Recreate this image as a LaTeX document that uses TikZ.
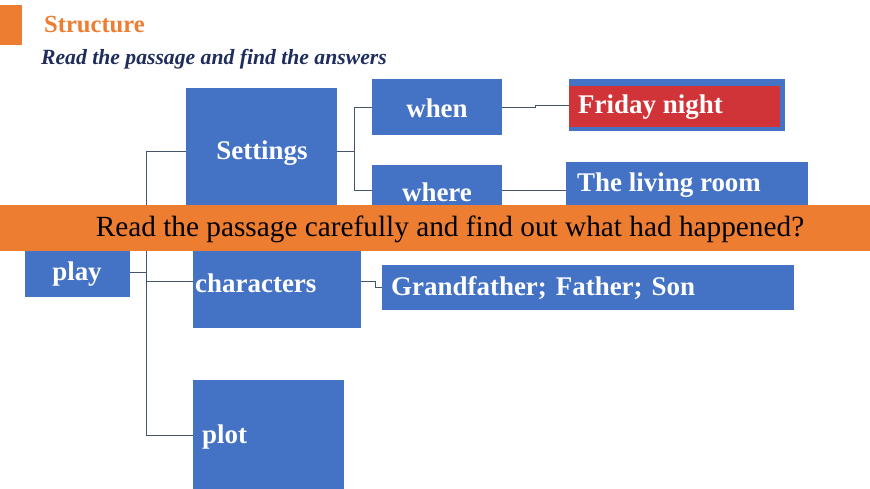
\documentclass[tikz,border=0pt]{standalone}
\usepackage{fontspec}
\setmainfont{Liberation Serif}
\usetikzlibrary{positioning,calc}
\definecolor{boxblue}{HTML}{4472C4}
\definecolor{tabor}{HTML}{ED7D31}
\definecolor{linkgray}{HTML}{44546A}
\definecolor{nightred}{HTML}{D13438}
\definecolor{navy}{HTML}{1F2D5C}
\newcommand\bx[5]{% name, x1, y1, x2, y2
\fill[boxblue] (#2,#3) rectangle (#4,#5);
\coordinate (#1) at ($(#2,#3)!0.5!(#4,#5)$);
}

\begin{document}
\begin{tikzpicture}[x=0.03cm,y=-0.03cm,
	boxtext/.style={text=white,font=\fontsize{23}{26}\selectfont\bfseries,inner sep=0pt},
	link/.style={draw=linkgray,line width=0.6pt}]
	\useasboundingbox (0,0) rectangle (870,489);
	
	%% heading
	\fill[tabor] (0,5) rectangle (22,45);
	\node[anchor=west,text=tabor,font=\fontsize{21}{24}\selectfont\bfseries] (head) at (40,25) {Structure};
	\node[anchor=west,text=navy,font=\fontsize{18.5}{22}\selectfont\bfseries\itshape] (sub) at (37,59) {Read the passage and find the answers};
	
	%% boxes
	\bx{play}{25}{230}{130}{297}
	\bx{set}{186}{88}{337}{215}
	\bx{char}{193}{230}{361}{328}
	\bx{plot}{193}{380}{344}{492}
	\bx{when}{372}{79}{502}{135}
	\bx{where}{372}{165}{502}{215}
	\bx{night}{569}{79}{785}{131}
	\fill[nightred] (569,86) rectangle (780,127);
	\bx{room}{566}{162}{808}{215}
	\bx{family}{382}{265}{794}{310}
	
	%% connectors
	\draw[link] (130,272) -- (146,272);
	\draw[link] (186,151) -| (146,435) -- (193,435);
	\draw[link] (146,281) -- (193,281);
	\draw[link] (337,151) -- (354,151);
	\draw[link] (372,107) -| (354,190) -- (372,190);
	\draw[link] (502,107) -- (535,107) -- (535,105) -- (569,105);
	\draw[link] (502,190) -- (566,190);
	\draw[link] (361,281) -| (375,287) -- (382,287);
	
	%% labels
	\node[boxtext] (tplay) at (77,274) {play};
	\node[boxtext] (tset) at (262,153) {Settings};
	\node[boxtext,anchor=west] (tchar) at (195,283) {characters};
	\node[boxtext,anchor=west] (tplot) at (202,437) {plot};
	\node[boxtext] (twhen) at (437,108) {when};
	\node[boxtext] (twhere) at (437,192) {where};
	\node[boxtext,anchor=west] (tnight) at (578,107) {Friday night};
	\node[boxtext,anchor=west] (troom) at (577,185) {The living room};
	\node[boxtext,anchor=west] (tfam) at (391,288) {Grandfather;\,\,Father;\,\,Son};
	
	%% banner
	\fill[tabor] (0,205) rectangle (870,251);
	\node[font=\fontsize{25}{28}\selectfont,inner sep=0pt] (task) at (450,229) {Read the passage carefully and find out what had happened?};
\end{tikzpicture}
\end{document}
